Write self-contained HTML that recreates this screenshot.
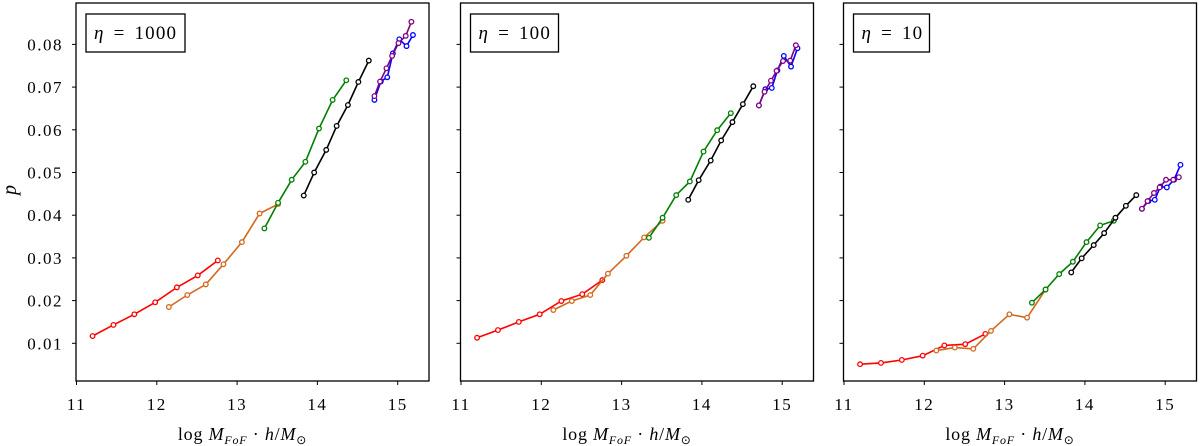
<!DOCTYPE html>
<html><head><meta charset="utf-8"><style>
html,body{margin:0;padding:0;background:#fff;}
svg{display:block;font-family:"Liberation Serif",serif;}
</style></head><body>
<svg id="chart" width="1200" height="446" viewBox="0 0 1200 446" xmlns="http://www.w3.org/2000/svg"></svg>
<script>
const xTicks = [11, 12, 13, 14, 15];
const yTicks = [0.01, 0.02, 0.03, 0.04, 0.05, 0.06, 0.07, 0.08];
const yTickLabels = ["0.01","0.02","0.03","0.04","0.05","0.06","0.07","0.08"];
const panelLabels = ["η = 1000", "η = 100", "η = 10"];
const seriesColors = ["#ff0000", "#d2691e", "#008000", "#000000", "#0000ff", "#800080"];
const seriesNames = ["red", "orange", "green", "black", "blue", "purple"];
const xRed = [11.2, 11.46, 11.72, 11.98, 12.25, 12.51, 12.76];
const xOrange = [12.15, 12.38, 12.61, 12.83, 13.06, 13.28, 13.51];
const xGreen = [13.34, 13.51, 13.68, 13.85, 14.02, 14.19, 14.36];
const xBlack = [13.83, 13.96, 14.11, 14.24, 14.38, 14.51, 14.64];
const xBlue = [14.71, 14.79, 14.87, 14.94, 15.02, 15.11, 15.19];
const xPurple = [14.71, 14.78, 14.86, 14.93, 15.01, 15.1, 15.17];
// eta = 1000
const p1Red = [0.0117, 0.0143, 0.0168, 0.0196, 0.0231, 0.0259, 0.0294];
const p1Orange = [0.0185, 0.0213, 0.0238, 0.0285, 0.0337, 0.0404, 0.0426];
const p1Green = [0.0369, 0.0429, 0.0483, 0.0525, 0.0603, 0.0670, 0.0716];
const p1Black = [0.0446, 0.0500, 0.0553, 0.0609, 0.0658, 0.0712, 0.0762];
const p1Blue = [0.0670, 0.0713, 0.0723, 0.0779, 0.0812, 0.0796, 0.0822];
const p1Purple = [0.0679, 0.0713, 0.0744, 0.0773, 0.0803, 0.0820, 0.0853];
// eta = 100
const p2Red = [0.0113, 0.0131, 0.0150, 0.0168, 0.0199, 0.0215, 0.0248];
const p2Orange = [0.0178, 0.0199, 0.0213, 0.0263, 0.0305, 0.0348, 0.0387];
const p2Green = [0.0347, 0.0394, 0.0447, 0.0479, 0.0549, 0.0599, 0.0639];
const p2Black = [0.0436, 0.0482, 0.0528, 0.0575, 0.0618, 0.0660, 0.0702];
const p2Blue = [0.0657, 0.0695, 0.0698, 0.0739, 0.0773, 0.0748, 0.0791];
const p2Purple = [0.0657, 0.0689, 0.0715, 0.0738, 0.0761, 0.0762, 0.0798];
// eta = 10
const p3Red = [0.0051, 0.0054, 0.0061, 0.0071, 0.0095, 0.0098, 0.0122];
const p3Orange = [0.0083, 0.0090, 0.0087, 0.0129, 0.0168, 0.0160, 0.0226];
const p3Green = [0.0195, 0.0226, 0.0262, 0.0291, 0.0337, 0.0376, 0.0387];
const p3Black = [0.0266, 0.0299, 0.0330, 0.0358, 0.0394, 0.0422, 0.0447];
const p3Blue = [0.0415, 0.0433, 0.0436, 0.0467, 0.0465, 0.0483, 0.0518];
const p3Purple = [0.0415, 0.0433, 0.0452, 0.0465, 0.0483, 0.0483, 0.0489];

const xSets = [xRed, xOrange, xGreen, xBlack, xBlue, xPurple];
const panelsY = [
  [p1Red, p1Orange, p1Green, p1Black, p1Blue, p1Purple],
  [p2Red, p2Orange, p2Green, p2Black, p2Blue, p2Purple],
  [p3Red, p3Orange, p3Green, p3Black, p3Blue, p3Purple]
];

const NS = "http://www.w3.org/2000/svg";
const svg = document.getElementById("chart");
function mk(tag, attrs, parent) {
  const e = document.createElementNS(NS, tag);
  for (const k in attrs) e.setAttribute(k, attrs[k]);
  parent.appendChild(e);
  return e;
}
const panelLefts = [76, 460.5, 843.5];
const panelW = 353, plotTop = 3, plotBottom = 381;
const pxPerX = 80.3, pxPerY = 4270;
const legendW = [99, 88, 76];

panelLefts.forEach((L, pi) => {
  const g = mk("g", {}, svg);
  
  
  const xs = v => L + 0.5 + (v - 11) * pxPerX;
  const ys = v => 343.3 - (v - 0.01) * pxPerY;
  xSets.forEach((xa, si) => {
    const ya = panelsY[pi][si];
    const sg = mk("g", {}, g);
    
    
    const pts = xa.map((x, i) => xs(x).toFixed(1) + "," + ys(ya[i]).toFixed(1)).join(" ");
    const pl = mk("polyline", {points: pts, fill: "none", stroke: seriesColors[si], "stroke-width": 1.6}, sg);
    
    
    xa.forEach((x, i) => {
      const c = mk("circle", {cx: xs(x), cy: ys(ya[i]), r: 2.3, fill: "#fff", stroke: seriesColors[si], "stroke-width": 1.3}, sg);
      
      
    });
  });
  const fr = mk("rect", {x: L, y: plotTop, width: panelW, height: plotBottom - plotTop, fill: "none", stroke: "#000", "stroke-width": 1.3}, g);
  
  
  xTicks.forEach(t => {
    const x = xs(t);
    const tk = mk("line", {x1: x, x2: x, y1: plotBottom, y2: plotBottom + 4, stroke: "#000", "stroke-width": 1}, g);
    
    
    const tl = mk("text", {x: x, y: 410, "text-anchor": "middle", "font-size": 17, "letter-spacing": 1.5}, g);
    tl.textContent = String(t);
    
    
  });
  yTicks.forEach((t, i) => {
    const y = ys(t);
    const tk = mk("line", {x1: L - 4, x2: L, y1: y, y2: y, stroke: "#000", "stroke-width": 1}, g);
    
    
    if (pi === 0) {
      const tl = mk("text", {x: L - 13, y: y + 6, "text-anchor": "end", "font-size": 17, "letter-spacing": 1.5}, g);
      tl.textContent = yTickLabels[i];
      
      
    }
  });
  const xl = mk("text", {x: L + panelW / 2 - 10, y: 440, "text-anchor": "middle", "font-size": 18, "letter-spacing": 0.8}, g);
  
  
  xl.innerHTML = 'log  <tspan font-style="italic">M</tspan><tspan font-style="italic" font-size="12" dy="4">FoF</tspan><tspan dy="-4"> · </tspan><tspan font-style="italic">h</tspan>/<tspan font-style="italic">M</tspan><tspan font-size="12" dy="4">⊙</tspan>';
  const lg = mk("g", {}, g);
  
  
  mk("rect", {x: L + 10, y: 14, width: legendW[pi], height: 38, fill: "#fff", stroke: "#000", "stroke-width": 1.3}, lg);
  const lt = mk("text", {x: L + 18, y: 39, "font-size": 19, "letter-spacing": 1.2, "word-spacing": 3}, lg);
  
  
  lt.innerHTML = '<tspan font-style="italic">η</tspan> = ' + panelLabels[pi].split("= ")[1];
});
const yl = mk("text", {x: 16, y: 190, "text-anchor": "middle", "font-size": 20, "font-style": "italic", transform: "rotate(-90 16 190)"}, svg);
yl.textContent = "p";


</script>
</body></html>
